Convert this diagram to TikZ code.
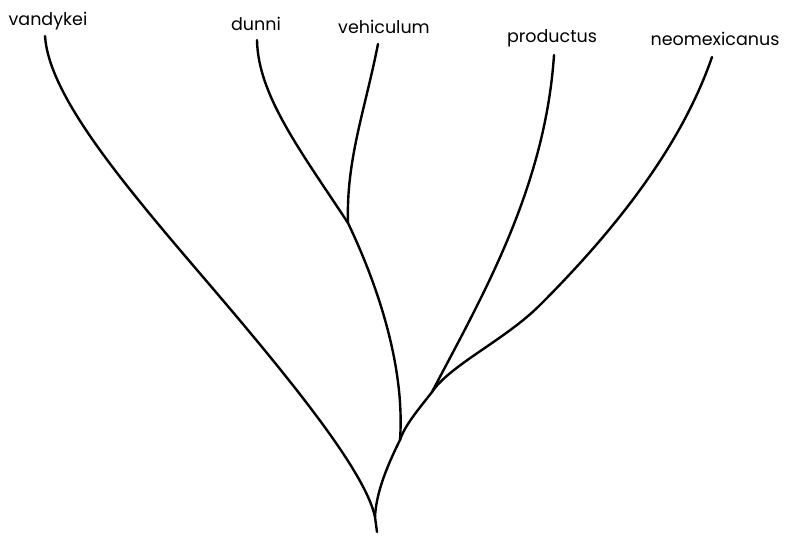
\documentclass[tikz,border=0pt]{standalone}
\usepackage{fontspec}
\newfontfamily\taxonfont{Poppins}

\begin{document}
\begin{tikzpicture}[x=1pt,y=-1pt,
    branch/.style={line width=2.4pt,line cap=round,line join=round},
    taxon/.style={font=\taxonfont\fontsize{17.5}{20}\selectfont,anchor=base,inner sep=0pt}]
    \useasboundingbox (0,0) rectangle (786,538);
    % species names
    \foreach \name/\x/\y in {vandykei/48/25,dunni/256/30,vehiculum/384/33,productus/552/42,neomexicanus/715/45}
        \node[taxon] (\name) at (\x,\y) {\name};
    % tips and forks
    \coordinate (tipV) at (45,36);
    \coordinate (tipD) at (257,40);
    \coordinate (tipH) at (378,44);
    \coordinate (tipP) at (554,55);
    \coordinate (tipN) at (712,57);
    \coordinate (forkDH) at (348,223);
    \coordinate (forkPN) at (432,392);
    \coordinate (forkDP) at (400,440);
    \coordinate (forkV) at (375,517);
    \coordinate (root) at (377,532);
    % branches
    \draw[branch] (tipV) .. controls (49,95) and (120,180) .. (203,277)
        .. controls (286,374) and (365,470) .. (forkV);
    \draw[branch] (tipD) .. controls (258,95) and (300,150) .. (forkDH);
    \draw[branch] (tipH) .. controls (365,110) and (346,160) .. (forkDH);
    \draw[branch] (forkDH) .. controls (380,290) and (405,370) .. (forkDP);
    \draw[branch] (tipP) .. controls (545,190) and (480,300) .. (forkPN);
    \draw[branch] (tipN) .. controls (680,150) and (610,235) .. (540,305)
        .. controls (505,340) and (450,365) .. (forkPN);
    \draw[branch] (forkPN) .. controls (418,410) and (405,425) .. (forkDP);
    \draw[branch] (forkDP) .. controls (385,470) and (376,495) .. (forkV) -- (root);
\end{tikzpicture}
\end{document}
